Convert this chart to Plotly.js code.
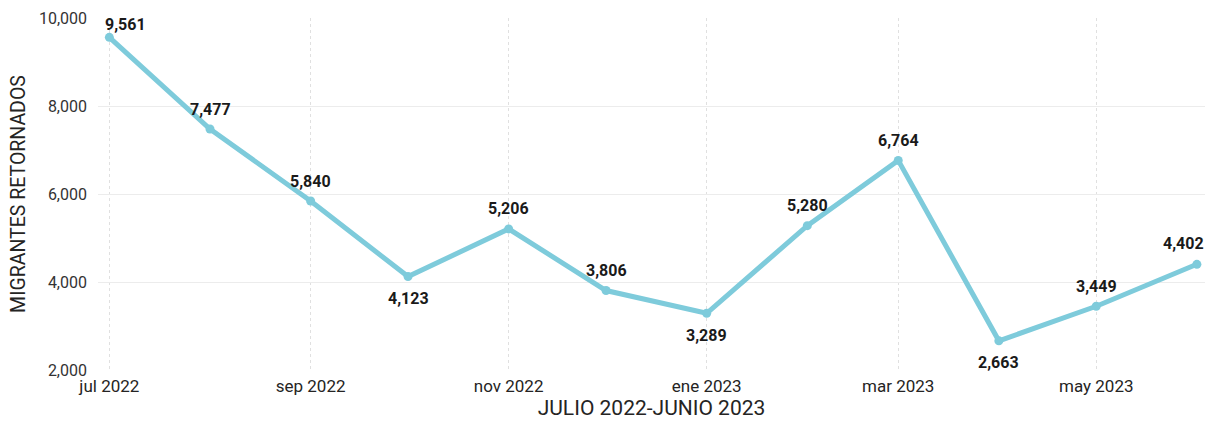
<!DOCTYPE html>
<html>
<head>
<meta charset="utf-8">
<script src="https://cdn.plot.ly/plotly-3.0.1.min.js"></script>
<style>html,body{margin:0;padding:0;background:#fff;}#chart{width:1208px;height:421px;}</style>
</head>
<body>
<div id="chart"></div>
<script>
const months = ["2022-07-01","2022-08-01","2022-09-01","2022-10-01","2022-11-01","2022-12-01","2023-01-01","2023-02-01","2023-03-01","2023-04-01","2023-05-01","2023-06-01"];
const migrantes = [9561, 7477, 5840, 4123, 5206, 3806, 3289, 5280, 6764, 2663, 3449, 4402];
const labelSide = ["above","above","above","below","above","above","below","above","above","below","above","above"];
const tickDates = ["2022-07-01","2022-09-01","2022-11-01","2023-01-01","2023-03-01","2023-05-01"];
const tickLabels = ["jul 2022","sep 2022","nov 2022","ene 2023","mar 2023","may 2023"];
const yTicks = [2000, 4000, 6000, 8000, 10000];

const trace = {
  x: months,
  y: migrantes,
  type: 'scatter',
  mode: 'lines+markers',
  line: {color: '#7ecbdb', width: 5},
  marker: {color: '#7ecbdb', size: 9},
  cliponaxis: false,
  hoverinfo: 'x+y'
};

const n = months.length;
const annotations = months.map((m, i) => {
  let xs = 0, ys = labelSide[i] === 'above' ? 20 : -22;
  if (i === 0) { xs = 16; ys = 13; }
  if (i === n - 1) { xs = -13; ys = 21; }
  return {
    x: m, y: migrantes[i], xref: 'x', yref: 'y',
    text: migrantes[i].toLocaleString('en-US'),
    showarrow: false, xanchor: 'center', yanchor: 'middle',
    xshift: xs, yshift: ys,
    font: {family: 'Roboto', size: 16, color: '#1a1a1a', weight: 'bold'}
  };
});

const layout = {
  width: 1208, height: 421,
  margin: {l: 98, r: 3, t: 18, b: 51},
  paper_bgcolor: '#fff', plot_bgcolor: '#fff',
  showlegend: false,
  font: {family: 'Roboto', color: '#252423'},
  annotations: annotations,
  xaxis: {
    type: 'date',
    range: ['2022-06-27 12:00', '2023-06-03 12:00'],
    tickvals: tickDates,
    ticktext: tickLabels,
    tickfont: {size: 17, color: '#252423'},
    ticklabelstandoff: 4,
    showgrid: true,
    gridcolor: '#e0e0e0',
    griddash: 'dot',
    gridwidth: 1,
    zeroline: false,
    showline: false,
    ticks: '',
    title: {text: 'JULIO 2022-JUNIO 2023', font: {size: 21, color: '#252423'}, standoff: 4}
  },
  yaxis: {
    range: [2000, 10000],
    tickvals: yTicks,
    tickformat: ',d',
    tickfont: {size: 16, color: '#333'},
    showgrid: true,
    gridcolor: '#ececec',
    gridwidth: 1,
    zeroline: false,
    showline: false,
    ticks: '',
    ticklabelstandoff: 10,
    title: {text: 'MIGRANTES RETORNADOS', font: {size: 19.5, color: '#252423'}, standoff: 8}
  }
};

Plotly.newPlot('chart', [trace], layout, {displayModeBar: false, staticPlot: true});
</script>
</body>
</html>
